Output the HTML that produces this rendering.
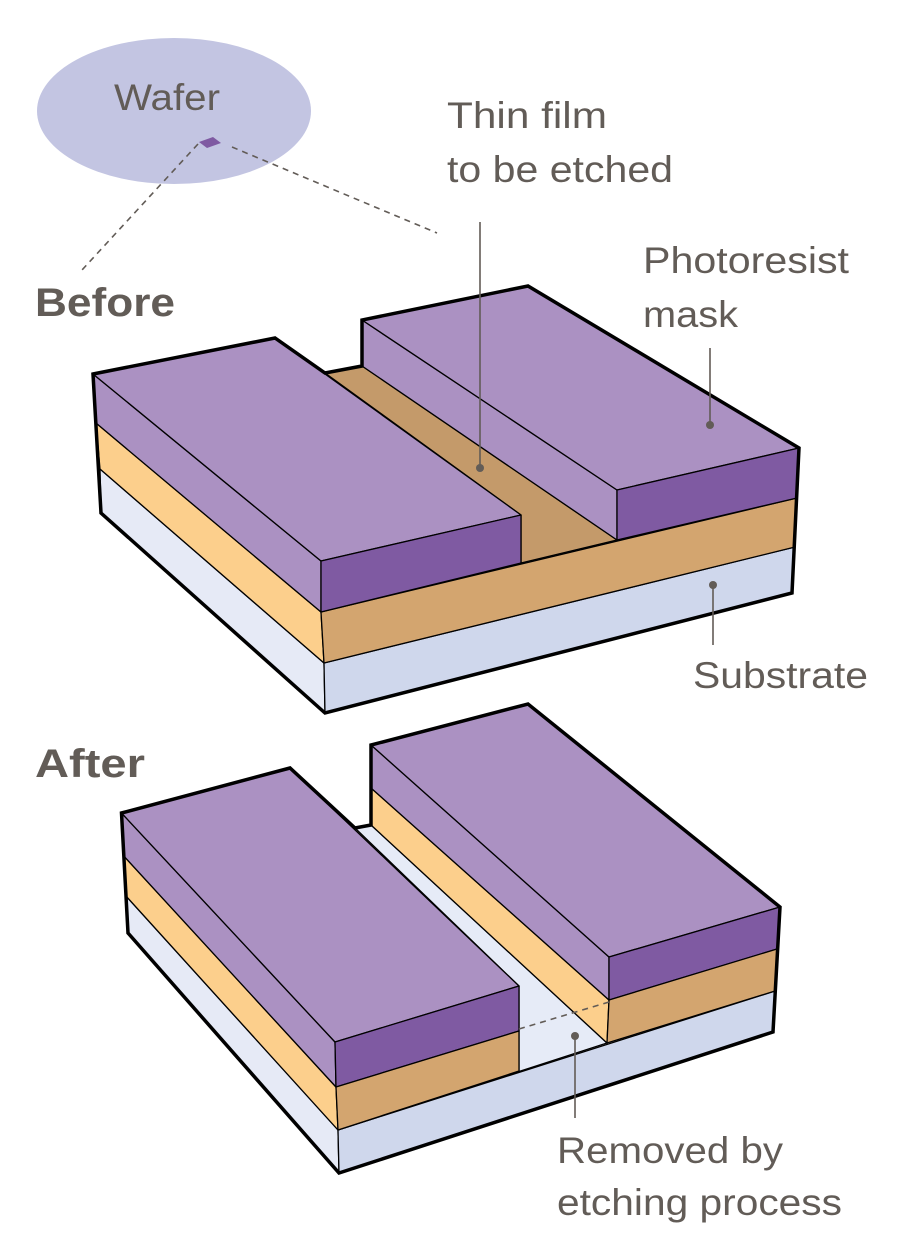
<!DOCTYPE html>
<html><head><meta charset="utf-8"><style>
html,body{margin:0;padding:0;background:#fff;}
svg{display:block;}
text{font-family:"Liberation Sans",sans-serif;fill:#625c57;}
</style></head><body>
<svg width="901" height="1234" viewBox="0 0 901 1234" xmlns="http://www.w3.org/2000/svg">
<!-- Wafer -->
<ellipse cx="174" cy="111" rx="137" ry="73" fill="#c3c5e2"/>
<text x="114" y="110" font-size="37" textLength="106" lengthAdjust="spacingAndGlyphs">Wafer</text>
<polygon points="199,142 213,137 221,143 207,148" fill="#7f5aa2"/>
<g stroke="#625c57" stroke-width="1.6" stroke-dasharray="6,5" fill="none">
<line x1="198" y1="144" x2="82" y2="270"/>
<line x1="232" y1="147" x2="437" y2="233"/>
</g>
<text x="35" y="316" font-size="40" font-weight="bold" textLength="140" lengthAdjust="spacingAndGlyphs">Before</text>
<text x="447" y="128" font-size="37" textLength="160" lengthAdjust="spacingAndGlyphs">Thin film</text>
<text x="447" y="182" font-size="37" textLength="226" lengthAdjust="spacingAndGlyphs">to be etched</text>
<text x="643" y="273" font-size="37" textLength="206" lengthAdjust="spacingAndGlyphs">Photoresist</text>
<text x="643" y="327" font-size="37" textLength="95" lengthAdjust="spacingAndGlyphs">mask</text>
<text x="693" y="688" font-size="37" textLength="175" lengthAdjust="spacingAndGlyphs">Substrate</text>

<!-- BEFORE block -->
<g stroke="#000" stroke-width="1.3" stroke-linejoin="round">
<polygon points="100,469 324,663 325,713 101,513" fill="#e6eaf6"/>
<polygon points="324,663 795,547 792,593 325,713" fill="#cfd7ec"/>
<polygon points="96,423 321,612 324,663 100,469" fill="#fccf8c"/>
<polygon points="321,612 797,498 795,547 324,663" fill="#d3a56f"/>
<polygon points="325,373 362,366 617,540 521,563 521,515" fill="#c49a6a"/>
<polygon points="362,320 617,490 617,540 362,366" fill="#ab91c2"/>
<polygon points="362,320 528,286 799,448 617,490" fill="#ab91c2"/>
<polygon points="617,490 799,448 797,498 617,540" fill="#7f5aa2"/>
<polygon points="93,374 321,561 321,612 96,423" fill="#ab91c2"/>
<polygon points="93,374 275,338 521,515 321,561" fill="#ab91c2"/>
<polygon points="321,561 521,515 521,563 321,612" fill="#7f5aa2"/>
</g>
<polygon points="93,374 275,338 325,373 362,366 362,320 528,286 799,448 792,593 325,713 101,513" fill="none" stroke="#000" stroke-width="3.5" stroke-linejoin="miter"/>
<g stroke="#625c57" stroke-width="1.6">
<line x1="480" y1="222" x2="480" y2="468"/>
<line x1="710" y1="348" x2="710" y2="425"/>
<line x1="713" y1="585" x2="713" y2="645"/>
</g>
<g fill="#625c57"><circle cx="480" cy="468" r="4"/><circle cx="710" cy="425" r="4"/><circle cx="713" cy="585" r="4"/></g>

<text x="35" y="777" font-size="40" font-weight="bold" textLength="110" lengthAdjust="spacingAndGlyphs">After</text>

<!-- AFTER block -->
<g stroke="#000" stroke-width="1.3" stroke-linejoin="round">
<polygon points="126,896 338,1130 339,1173 128,933" fill="#e6eaf6"/>
<polygon points="338,1130 775,991 773,1032 339,1173" fill="#cfd7ec"/>
<polygon points="355,828 371,825 607,1043 338,1130 519,1071 519,986" fill="#e6ebf7"/>
<polygon points="371,788 609,1000 607,1043 371,825" fill="#fccf8c"/>
<polygon points="371,745 609,957 609,1000 371,788" fill="#ab91c2"/>
<polygon points="371,745 528,704 780,907 609,957" fill="#ab91c2"/>
<polygon points="609,957 780,907 777,949 609,1000" fill="#7f5aa2"/>
<polygon points="609,1000 777,949 775,991 607,1043" fill="#d3a56f"/>
<polygon points="124.7,857 336,1087 338,1130 126,896" fill="#fccf8c"/>
<polygon points="121.5,813 335,1042 336,1087 124.7,857" fill="#ab91c2"/>
<polygon points="121.5,813 290,768 519,986 335,1042" fill="#ab91c2"/>
<polygon points="335,1042 519,986 519,1031 336,1087" fill="#7f5aa2"/>
<polygon points="336,1087 519,1031 519,1071 338,1130" fill="#d3a56f"/>
</g>
<polygon points="121.5,813 290,768 355,828 371,825 371,745 528,704 780,907 773,1032 339,1173 128,933" fill="none" stroke="#000" stroke-width="3.5" stroke-linejoin="miter"/>
<line x1="519" y1="1029" x2="609" y2="1002" stroke="#625c57" stroke-width="1.6" stroke-dasharray="6,5"/>
<line x1="575" y1="1036" x2="575" y2="1118" stroke="#625c57" stroke-width="1.6"/>
<circle cx="575" cy="1036" r="4" fill="#625c57"/>
<text x="557" y="1163" font-size="37" textLength="226" lengthAdjust="spacingAndGlyphs">Removed by</text>
<text x="557" y="1215" font-size="37" textLength="285" lengthAdjust="spacingAndGlyphs">etching process</text>
</svg>
</body></html>
